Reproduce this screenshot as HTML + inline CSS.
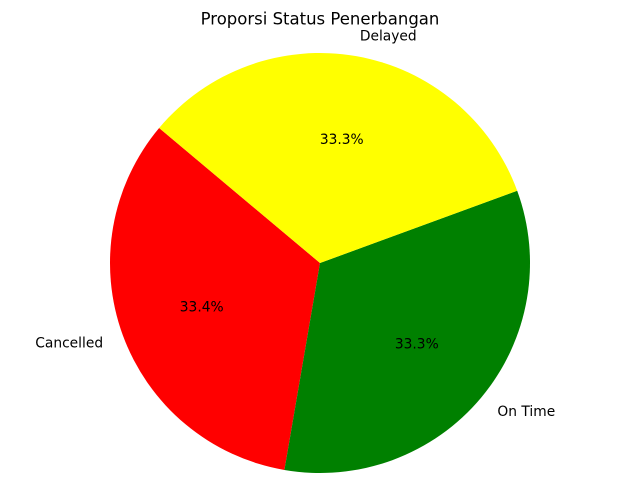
<!DOCTYPE html>
<html><head><meta charset="utf-8">
<style>
html,body{margin:0;padding:0;background:#fff;}
svg{display:block;font-family:"DejaVu Sans","Liberation Sans",sans-serif;}
</style></head>
<body>
<svg id="chart" width="640" height="504" viewBox="0 0 640 504">
<text x="320" y="24.5" text-anchor="middle" font-size="16.5" fill="#000">Proporsi Status Penerbangan</text>
<g id="slices"></g>
<g id="labels"></g>
</svg>
<script>
const categories = ["Cancelled", "On Time", "Delayed"];
const values = [334, 333, 333];
const colors = ["#ff0000", "#008000", "#ffff00"];
const startAngle = 140;

const cx = 320, cy = 263, r = 210;
const NS = "http://www.w3.org/2000/svg";
const total = values.reduce((a, b) => a + b, 0);
const gS = document.getElementById("slices");
const gL = document.getElementById("labels");
function pt(deg, rad) {
  const a = deg * Math.PI / 180;
  return [cx + rad * Math.cos(a), cy - rad * Math.sin(a)];
}
let ang = startAngle;
values.forEach((v, i) => {
  const sweep = v / total * 360;
  const a0 = ang, a1 = ang + sweep;
  const p0 = pt(a0, r), p1 = pt(a1, r);
  const large = sweep > 180 ? 1 : 0;
  const path = document.createElementNS(NS, "path");
  path.setAttribute("d", `M${cx},${cy} L${p0[0]},${p0[1]} A${r},${r} 0 ${large} 0 ${p1[0]},${p1[1]} Z`);
  path.setAttribute("fill", colors[i]);
  
  
  gS.appendChild(path);

  const mid = (a0 + a1) / 2;
  const lp = pt(mid, r * 1.1);
  const t = document.createElementNS(NS, "text");
  t.setAttribute("x", lp[0]);
  t.setAttribute("y", lp[1] + 1);
  t.setAttribute("font-size", "13.8");
  t.setAttribute("dominant-baseline", "central");
  t.setAttribute("text-anchor", Math.cos(mid * Math.PI / 180) < 0 ? "end" : "start");
  t.textContent = categories[i];
  
  
  gL.appendChild(t);

  const pp = pt(mid, r * 0.6);
  const pc = document.createElementNS(NS, "text");
  pc.setAttribute("x", pp[0]);
  pc.setAttribute("y", pp[1] + 1);
  pc.setAttribute("font-size", "13.8");
  pc.setAttribute("dominant-baseline", "central");
  pc.setAttribute("text-anchor", "middle");
  pc.textContent = (v / total * 100).toFixed(1) + "%";
  
  
  gL.appendChild(pc);

  ang = a1;
});
</script>
</body></html>
